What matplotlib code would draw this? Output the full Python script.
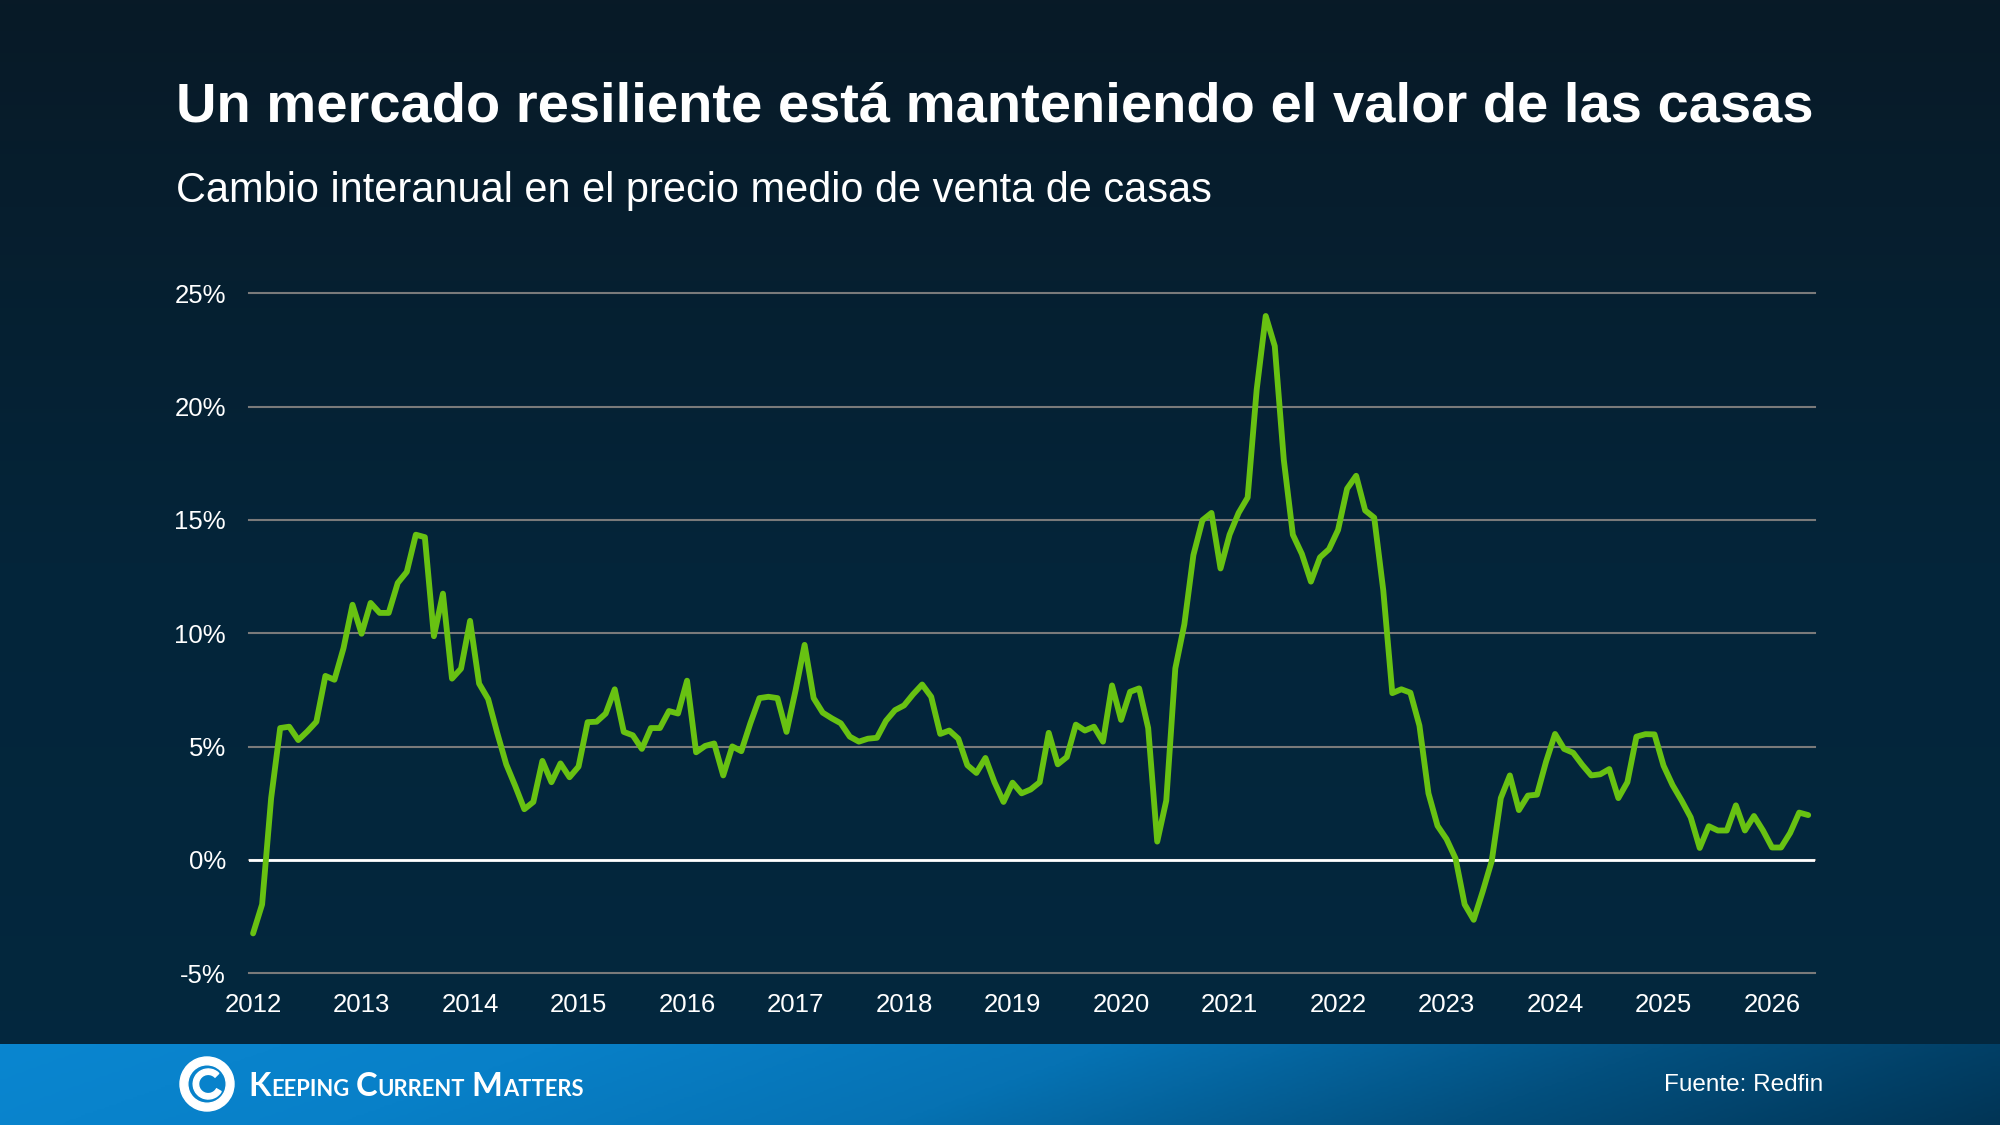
import numpy as np
import matplotlib.pyplot as plt
from matplotlib.colors import LinearSegmentedColormap
from matplotlib.patches import Wedge

plt.rcParams["font.family"] = ["Liberation Sans", "DejaVu Sans"]

## Data ---------------------------------------------------------------------
# year-over-year change in median sale price (%), monthly from Jan 2012
yoy_change = [
    -3.24, -1.96, 2.73, 5.82, 5.88, 5.29, 5.67, 6.10, 8.12, 7.95, 9.34, 11.26,
    9.98, 11.34, 10.90, 10.90, 12.22, 12.71, 14.35, 14.24, 9.87, 11.75, 8.00, 8.44,
    10.55, 7.78, 7.10, 5.61, 4.22, 3.26, 2.24, 2.56, 4.37, 3.43, 4.26, 3.65,
    4.12, 6.08, 6.10, 6.46, 7.53, 5.65, 5.50, 4.90, 5.82, 5.82, 6.57, 6.46,
    7.91, 4.75, 5.03, 5.14, 3.73, 5.01, 4.80, 6.03, 7.14, 7.20, 7.14, 5.65,
    7.48, 9.49, 7.14, 6.50, 6.25, 6.03, 5.44, 5.22, 5.35, 5.39, 6.14, 6.61,
    6.82, 7.31, 7.74, 7.20, 5.56, 5.71, 5.35, 4.18, 3.84, 4.50, 3.43, 2.56,
    3.41, 2.94, 3.11, 3.43, 5.61, 4.22, 4.54, 5.97, 5.71, 5.88, 5.22, 7.70,
    6.18, 7.42, 7.57, 5.82, 0.81, 2.62, 8.45, 10.40, 13.45, 14.99, 15.31, 12.86,
    14.35, 15.31, 15.99, 20.75, 24.00, 22.67, 17.65, 14.35, 13.50, 12.28, 13.35, 13.71,
    14.56, 16.38, 16.95, 15.42, 15.10, 11.90, 7.36, 7.53, 7.38, 5.93, 2.94, 1.51,
    0.92, 0.06, -1.96, -2.64, -1.39, -0.04, 2.73, 3.73, 2.20, 2.84, 2.88, 4.33,
    5.56, 4.90, 4.73, 4.20, 3.73, 3.78, 4.01, 2.73, 3.43, 5.44, 5.55, 5.54,
    4.16, 3.30, 2.62, 1.88, 0.53, 1.49, 1.30, 1.30, 2.41, 1.30, 1.94, 1.30,
    0.55, 0.55, 1.19, 2.09, 1.98,
]
year_labels = ["2012", "2013", "2014", "2015", "2016", "2017", "2018", "2019",
               "2020", "2021", "2022", "2023", "2024", "2025", "2026"]
y_ticks = [-5, 0, 5, 10, 15, 20, 25]
y_tick_labels = ["-5%", "0%", "5%", "10%", "15%", "20%", "25%"]

title = "Un mercado resiliente está manteniendo el valor de las casas"
subtitle = "Cambio interanual en el precio medio de venta de casas"
source = "Fuente: Redfin"
logo_parts = [("K", 23.5), ("EEPING", 15.8), (None, 0), ("C", 23.5), ("URRENT", 15.8),
              (None, 0), ("M", 23.5), ("ATTERS", 15.8)]

## Figure -------------------------------------------------------------------
W, H = 2000, 1125
fig = plt.figure(figsize=(W / 100, H / 100), dpi=100)

# background gradient
bg = fig.add_axes([0, 0, 1, 1], zorder=-10)
bg.axis("off")
cmap_bg = LinearSegmentedColormap.from_list("bg", ["#03283f", "#04253a", "#081a27"])
bg.imshow(np.linspace(0, 1, 256).reshape(-1, 1), aspect="auto", cmap=cmap_bg,
          extent=[0, 1, 0, 1], origin="lower")

# footer band
ft = fig.add_axes([0, 0, 1, 81 / H], zorder=-5)
ft.axis("off")
xx, yy = np.meshgrid(np.linspace(0, 1, 500), np.linspace(0, 1, 40))
cmap_ft = LinearSegmentedColormap.from_list(
    "ft", ["#0a86d0", "#0880c8", "#0672b3", "#03507f", "#013556"])
ft.imshow(np.clip(xx * 0.9 + (1 - yy) * 0.1, 0, 1), aspect="auto", cmap=cmap_ft,
          extent=[0, 1, 0, 1], origin="lower")

## Main line chart -----------------------------------------------------------
ax = fig.add_axes([249 / W, 1 - 973.3 / H, (1815 - 249) / W, (973.3 - 293.3) / H])
ax.set_facecolor("none")
months = np.arange(len(yoy_change))
ax.plot(months, yoy_change, color="#68c212", lw=4.2, zorder=4,
        solid_capstyle="round", solid_joinstyle="round")
ax.axhline(0, color="white", lw=2, zorder=3)

ax.set_xlim(-0.45, 172.75)
ax.set_ylim(-5, 25)
ax.set_yticks(y_ticks)
ax.set_yticklabels(y_tick_labels)
ax.set_xticks(np.arange(0, 12 * len(year_labels), 12))
ax.set_xticklabels(year_labels)
ax.yaxis.grid(True, color="#7a7a7a", lw=1.5)
for gl in ax.get_ygridlines():
    gl.set_clip_on(False)
for s in ax.spines.values():
    s.set_visible(False)
ax.tick_params(axis="y", length=0, pad=16.5, labelsize=18.5, labelcolor="white")
ax.tick_params(axis="x", length=0, pad=14.5, labelsize=18.5, labelcolor="white")

## Texts ----------------------------------------------------------------------
fig.text(176 / W, 1 - 122 / H, title, fontsize=40.4, weight="bold",
         color="white", va="baseline")
fig.text(176 / W, 1 - 202 / H, subtitle, fontsize=29.9, color="white",
         va="baseline")
fig.text(1823 / W, 1 - 1085 / H, source, fontsize=17.5, color="white",
         ha="right", va="center")

# logo icon
lg = fig.add_axes([(207 - 30) / W, (H - 1084 - 30) / H, 60 / W, 60 / H])
lg.set_xlim(-1, 1)
lg.set_ylim(-1, 1)
lg.axis("off")
lg.add_patch(Wedge((0, 0), 0.9, 0, 360, width=0.26, color="white"))
lg.add_patch(Wedge((0.04, 0), 0.5, 45, 330, width=0.18, color="white"))

# logo text, small caps built from pieces
renderer = fig.canvas.get_renderer()
xpos = 248
for txt, size in logo_parts:
    if txt is None:
        xpos += 6
        continue
    t = fig.text(xpos / W, 1 - 1096.5 / H, txt, fontsize=size, color="white",
                 family=["Lato", "DejaVu Sans"], weight="bold", va="baseline")
    xpos = t.get_window_extent(renderer).x1 + 0.5

fig.savefig("out.png", dpi=100)
